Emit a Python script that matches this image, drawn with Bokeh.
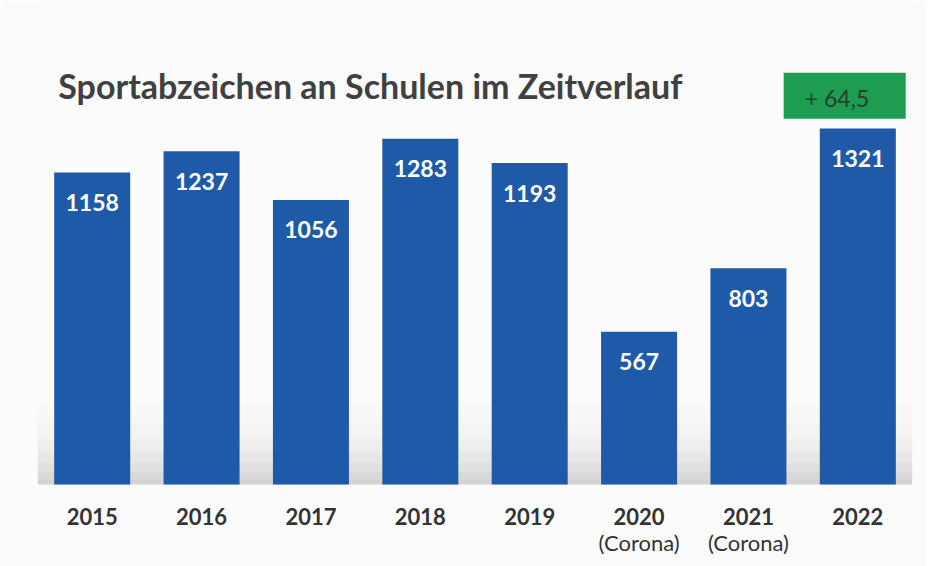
from bokeh.plotting import figure
from bokeh.models import ColumnDataSource, Range1d, BoxAnnotation
from bokeh.transform import dodge
from bokeh.core.properties import value
from bokeh.embed import file_html
from bokeh.resources import INLINE

years = ["2015", "2016", "2017", "2018", "2019", "2020", "2021", "2022"]
counts = [1158, 1237, 1056, 1283, 1193, 567, 803, 1321]
sublabels = ["", "", "", "", "", "(Corona)", "(Corona)", ""]
title_text = "Sportabzeichen an Schulen im Zeitverlauf"
change_text = "+ 64,5"

src = ColumnDataSource(dict(year=years, count=counts, lbl=[str(c) for c in counts],
                            sub=sublabels, base=[0] * len(years)))

p = figure(x_range=years, y_range=Range1d(-304, 1796), width=926, height=566,
           output_backend="svg", toolbar_location=None,
           min_border_left=37, min_border_right=14, min_border_top=0, min_border_bottom=0)
p.background_fill_color = "#fbfbfb"
p.border_fill_color = "#fbfbfb"
p.outline_line_color = None
p.xaxis.visible = False
p.yaxis.visible = False
p.grid.visible = False

# soft shadow near the baseline
for top, a in [(300, 0.02), (230, 0.03), (170, 0.04), (120, 0.05), (80, 0.06), (45, 0.06), (20, 0.05)]:
    p.add_layout(BoxAnnotation(bottom=0, top=top, fill_color="#707070", fill_alpha=a,
                               line_color=None, level="underlay"))

p.vbar(x="year", top="count", bottom=0, width=0.695, source=src,
       fill_color="#1f5aa8", line_color=None)

p.text(x="year", y="count", text="lbl", source=src, y_offset=30,
       text_align="center", text_baseline="middle", text_color="white",
       text_font=value("Lato"), text_font_style="bold", text_font_size="23px")

p.text(x="year", y="base", text="year", source=src, y_offset=32,
       text_align="center", text_baseline="middle", text_color="#333333",
       text_font=value("Lato"), text_font_style="bold", text_font_size="22px")
p.text(x="year", y="base", text="sub", source=src, y_offset=58,
       text_align="center", text_baseline="middle", text_color="#333333",
       text_font=value("Lato"), text_font_size="22px")

# title
tsrc = ColumnDataSource(dict(x=[years[0]], y=[1480], t=[title_text]))
p.text(x=dodge("x", -0.31, range=p.x_range), y="y", text="t", source=tsrc,
       text_align="left", text_baseline="middle", text_color="#404040",
       text_font=value("Lato"), text_font_style="bold", text_font_size="34px")

# change box above last bar
bsrc = ColumnDataSource(dict(x=[years[-1]], y=[counts[-1] + 122], t=[change_text]))
p.rect(x=dodge("x", -0.12, range=p.x_range), y="y", width=122, height=46,
       width_units="screen", height_units="screen", source=bsrc,
       fill_color="#1e9c52", line_color=None)
p.text(x=dodge("x", -0.19, range=p.x_range), y="y", text="t", source=bsrc,
       y_offset=2, text_align="center", text_baseline="middle", text_color="#24402c",
       text_font=value("Lato"), text_font_size="23px")

open("out.html", "w").write(file_html(p, INLINE))
